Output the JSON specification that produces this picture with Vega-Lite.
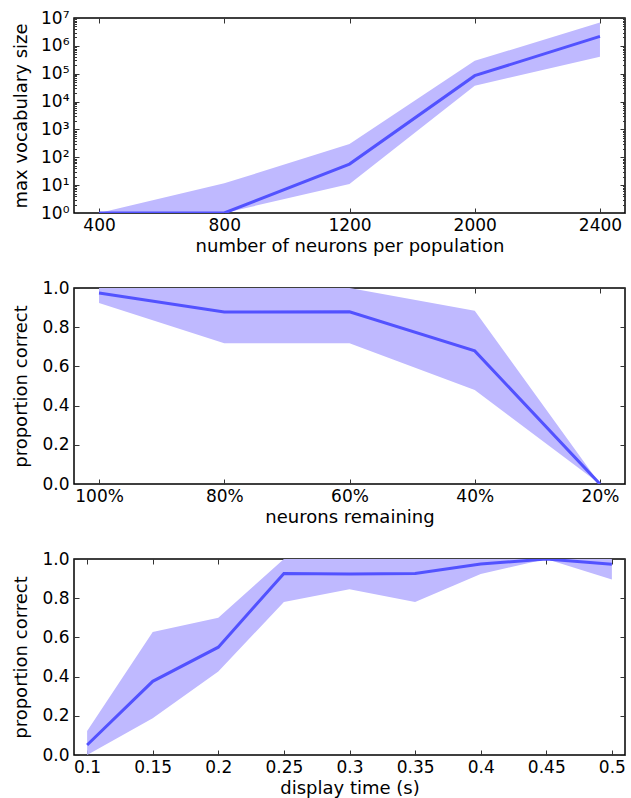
{
  "$schema": "https://vega.github.io/schema/vega-lite/v6.json",
  "padding": {"top": 8, "left": 11, "right": 5, "bottom": 5},
  "spacing": 22,
  "config": {
    "font": "DejaVu Sans",
    "view": {"stroke": "black", "strokeWidth": 1.5},
    "axis": {
      "labelFont": "DejaVu Sans", "titleFont": "DejaVu Sans",
      "labelFontSize": 17, "titleFontSize": 18, "titleFontWeight": "normal",
      "labelColor": "black", "titleColor": "black",
      "domain": false, "grid": false,
      "tickColor": "#333333", "tickWidth": 1, "tickSize": -5
    }
  },
  "vconcat": [
    {
      "width": 551, "height": 195,
      "data": {"values": [
        {"n": 400, "lo": 1, "hi": 1, "mean": 1},
        {"n": 800, "lo": 1, "hi": 11.6, "mean": 1},
        {"n": 1200, "lo": 11, "hi": 300, "mean": 57},
        {"n": 2000, "lo": 37000, "hi": 290000, "mean": 85000},
        {"n": 2400, "lo": 410000, "hi": 6900000, "mean": 2200000}
      ]},
      "layer": [
        {
          "mark": {"type": "area", "color": "#bfb9ff", "opacity": 1, "clip": true},
          "encoding": {
            "x": {"field": "n", "type": "ordinal", "scale": {"type": "point", "padding": 0.2},
                  "axis": {"orient": "bottom", "title": "number of neurons per population", "labelAngle": 0, "labelPadding": 9, "titlePadding": 4}},
            "y": {"field": "lo", "type": "quantitative", "scale": {"type": "log", "domain": [1, 10000000]},
                  "axis": {"orient": "left", "title": "max vocabulary size", "labelPadding": 10, "minExtent": 32, "maxExtent": 32, "titlePadding": 12,
                           "values": [1,2,3,4,5,6,7,8,9,10,20,30,40,50,60,70,80,90,100,200,300,400,500,600,700,800,900,1000,2000,3000,4000,5000,6000,7000,8000,9000,10000,20000,30000,40000,50000,60000,70000,80000,90000,100000,200000,300000,400000,500000,600000,700000,800000,900000,1000000,2000000,3000000,4000000,5000000,6000000,7000000,8000000,9000000,10000000],
                           "tickSize": {"condition": {"test": "indexof([1,10,100,1000,10000,100000,1000000,10000000], datum.value) >= 0", "value": -5}, "value": -2.5},
                           "labelExpr": "indexof([1,10,100,1000,10000,100000,1000000,10000000], datum.value) >= 0 ? '10' + ['⁰','¹','²','³','⁴','⁵','⁶','⁷'][round(log(datum.value)/LN10)] : ''"}},
            "y2": {"field": "hi"}
          }
        },
        {
          "mark": {"type": "line", "color": "#5252ff", "strokeWidth": 3, "clip": true},
          "encoding": {
            "x": {"field": "n", "type": "ordinal", "axis": {"orient": "top", "labels": false, "title": null}},
            "y": {"field": "mean", "type": "quantitative",
                  "axis": {"orient": "right", "labels": false, "title": null,
                           "values": [1,2,3,4,5,6,7,8,9,10,20,30,40,50,60,70,80,90,100,200,300,400,500,600,700,800,900,1000,2000,3000,4000,5000,6000,7000,8000,9000,10000,20000,30000,40000,50000,60000,70000,80000,90000,100000,200000,300000,400000,500000,600000,700000,800000,900000,1000000,2000000,3000000,4000000,5000000,6000000,7000000,8000000,9000000,10000000],
                           "tickSize": {"condition": {"test": "indexof([1,10,100,1000,10000,100000,1000000,10000000], datum.value) >= 0", "value": -5}, "value": -2.5}}}
          }
        }
      ],
      "resolve": {"axis": {"x": "independent", "y": "independent"}}
    },
    {
      "width": 551, "height": 196,
      "data": {"values": [
        {"r": "100%", "lo": 0.923, "hi": 1.0, "mean": 0.974},
        {"r": "80%", "lo": 0.718, "hi": 1.0, "mean": 0.877},
        {"r": "60%", "lo": 0.718, "hi": 1.0, "mean": 0.879},
        {"r": "40%", "lo": 0.479, "hi": 0.884, "mean": 0.679},
        {"r": "20%", "lo": 0, "hi": 0, "mean": 0}
      ]},
      "layer": [
        {
          "mark": {"type": "area", "color": "#bfb9ff", "opacity": 1, "clip": true},
          "encoding": {
            "x": {"field": "r", "type": "ordinal", "sort": null, "scale": {"type": "point", "padding": 0.2},
                  "axis": {"orient": "bottom", "title": "neurons remaining", "labelAngle": 0, "labelPadding": 9, "titlePadding": 4}},
            "y": {"field": "lo", "type": "quantitative", "scale": {"domain": [0, 1], "nice": false},
                  "axis": {"orient": "left", "title": "proportion correct", "labelPadding": 10, "minExtent": 32, "maxExtent": 32, "titlePadding": 12,
                           "values": [0, 0.2, 0.4, 0.6, 0.8, 1.0], "format": ".1f"}},
            "y2": {"field": "hi"}
          }
        },
        {
          "mark": {"type": "line", "color": "#5252ff", "strokeWidth": 3, "clip": true},
          "encoding": {
            "x": {"field": "r", "type": "ordinal", "sort": null, "axis": {"orient": "top", "labels": false, "title": null}},
            "y": {"field": "mean", "type": "quantitative",
                  "axis": {"orient": "right", "labels": false, "title": null, "values": [0, 0.2, 0.4, 0.6, 0.8, 1.0]}}
          }
        }
      ],
      "resolve": {"axis": {"x": "independent", "y": "independent"}}
    },
    {
      "width": 551, "height": 196,
      "data": {"values": [
        {"t": "0.1", "lo": 0, "hi": 0.123, "mean": 0.051},
        {"t": "0.15", "lo": 0.188, "hi": 0.627, "mean": 0.376},
        {"t": "0.2", "lo": 0.426, "hi": 0.70, "mean": 0.55},
        {"t": "0.25", "lo": 0.781, "hi": 1.0, "mean": 0.926},
        {"t": "0.3", "lo": 0.846, "hi": 1.0, "mean": 0.923},
        {"t": "0.35", "lo": 0.781, "hi": 1.0, "mean": 0.926},
        {"t": "0.4", "lo": 0.923, "hi": 1.0, "mean": 0.974},
        {"t": "0.45", "lo": 1.0, "hi": 1.0, "mean": 1.0},
        {"t": "0.5", "lo": 0.896, "hi": 1.0, "mean": 0.973}
      ]},
      "layer": [
        {
          "mark": {"type": "area", "color": "#bfb9ff", "opacity": 1, "clip": true},
          "encoding": {
            "x": {"field": "t", "type": "ordinal", "sort": null, "scale": {"type": "point", "padding": 0.2},
                  "axis": {"orient": "bottom", "title": "display time (s)", "labelAngle": 0, "labelPadding": 9, "titlePadding": 4}},
            "y": {"field": "lo", "type": "quantitative", "scale": {"domain": [0, 1], "nice": false},
                  "axis": {"orient": "left", "title": "proportion correct", "labelPadding": 10, "minExtent": 32, "maxExtent": 32, "titlePadding": 12,
                           "values": [0, 0.2, 0.4, 0.6, 0.8, 1.0], "format": ".1f"}},
            "y2": {"field": "hi"}
          }
        },
        {
          "mark": {"type": "line", "color": "#5252ff", "strokeWidth": 3, "clip": true},
          "encoding": {
            "x": {"field": "t", "type": "ordinal", "sort": null, "axis": {"orient": "top", "labels": false, "title": null}},
            "y": {"field": "mean", "type": "quantitative",
                  "axis": {"orient": "right", "labels": false, "title": null, "values": [0, 0.2, 0.4, 0.6, 0.8, 1.0]}}
          }
        }
      ],
      "resolve": {"axis": {"x": "independent", "y": "independent"}}
    }
  ]
}
